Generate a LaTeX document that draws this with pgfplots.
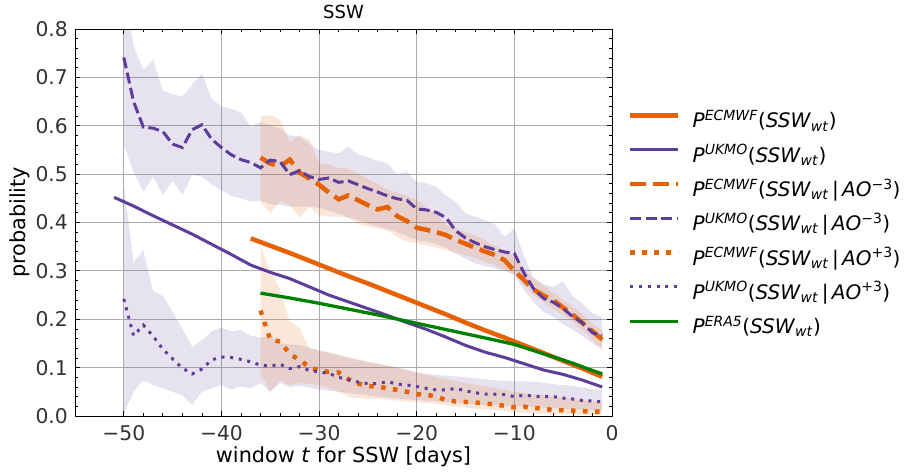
\documentclass[border=0pt]{standalone}
\usepackage{fontspec}
\setmainfont{DejaVu Sans}[ItalicFont={DejaVu Sans Oblique}]
\usepackage{pgfplots}
\pgfplotsset{compat=1.18}
\usepackage{pgfplotstable}
\usepgfplotslibrary{fillbetween}
\definecolor{ecm}{HTML}{E66101}
\definecolor{ukm}{HTML}{5E3C99}
\definecolor{era}{HTML}{008000}
\newcommand{\Pm}[1]{\textit{P}\textsuperscript{\textit{#1}}}
\newcommand{\SSW}{\textit{SSW}\textsubscript{\textit{wt}}}

\pgfplotstableread{
x y
-51 0.452
-49 0.434
-47 0.414
-45 0.395
-43 0.376
-41 0.355
-39 0.334
-37 0.312
-35 0.297
-33 0.284
-31 0.267
-29 0.250
-27 0.236
-25 0.222
-23 0.208
-21 0.193
-19 0.179
-17 0.163
-15 0.146
-13 0.132
-11 0.121
-9 0.108
-7 0.095
-5 0.086
-3 0.074
-1 0.060
}\ukmo

\pgfplotstableread{
x y
-37 0.367
-35 0.352
-33 0.337
-31 0.321
-29 0.305
-27 0.289
-25 0.274
-23 0.258
-21 0.242
-19 0.226
-17 0.210
-15 0.193
-13 0.177
-11 0.162
-9 0.146
-7 0.130
-5 0.114
-3 0.098
-1 0.081
}\ecmwf

\pgfplotstableread{
x y
-36 0.254
-33 0.244
-30 0.233
-27 0.221
-24 0.209
-21 0.196
-18 0.183
-15 0.170
-12 0.157
-10 0.148
-8 0.135
-6 0.122
-4 0.109
-2 0.094
-1 0.087
}\era

\pgfplotstableread{
x y
-50 0.741
-49 0.650
-48 0.597
-47 0.595
-46 0.588
-45 0.562
-44 0.555
-43 0.592
-42 0.602
-41 0.572
-40 0.555
-39 0.540
-38 0.530
-37 0.524
-36 0.513
-35 0.529
-34 0.526
-33 0.499
-32 0.507
-31 0.495
-30 0.489
-29 0.492
-28 0.483
-27 0.486
-26 0.478
-25 0.470
-24 0.463
-23 0.455
-22 0.449
-21 0.446
-20 0.428
-19 0.426
-18 0.421
-17 0.410
-16 0.383
-15 0.368
-14 0.358
-13 0.350
-12 0.344
-11 0.339
-10 0.336
-9 0.295
-8 0.262
-7 0.243
-6 0.235
-5 0.222
-4 0.205
-3 0.192
-2 0.172
-1 0.167
}\ukmoneg

\pgfplotstableread{
x y
-36 0.534
-35 0.522
-34 0.516
-33 0.530
-32 0.503
-31 0.491
-30 0.478
-29 0.462
-28 0.448
-27 0.456
-26 0.446
-25 0.436
-24 0.427
-23 0.432
-22 0.413
-21 0.403
-20 0.389
-19 0.385
-18 0.380
-17 0.374
-16 0.364
-15 0.356
-14 0.348
-13 0.340
-12 0.333
-11 0.322
-10 0.300
-9 0.281
-8 0.261
-7 0.249
-6 0.239
-5 0.224
-4 0.209
-3 0.192
-2 0.175
-1 0.158
}\ecmwfneg

\pgfplotstableread{
x y
-50 0.242
-49 0.166
-48 0.188
-47 0.165
-46 0.138
-45 0.118
-44 0.099
-43 0.087
-42 0.097
-41 0.116
-40 0.122
-39 0.121
-38 0.117
-37 0.112
-36 0.105
-35 0.103
-34 0.107
-33 0.098
-32 0.102
-31 0.094
-30 0.091
-29 0.088
-28 0.080
-27 0.075
-26 0.070
-25 0.067
-24 0.067
-23 0.071
-22 0.066
-21 0.064
-20 0.061
-19 0.057
-18 0.054
-17 0.054
-16 0.057
-15 0.052
-14 0.048
-13 0.045
-12 0.045
-11 0.044
-10 0.040
-9 0.043
-8 0.041
-7 0.040
-6 0.040
-5 0.037
-4 0.035
-3 0.032
-2 0.031
-1 0.029
}\ukmopos

\pgfplotstableread{
x y
-36 0.218
-35 0.158
-34 0.154
-33 0.128
-32 0.116
-31 0.101
-30 0.094
-29 0.091
-28 0.090
-27 0.076
-26 0.067
-25 0.062
-24 0.061
-23 0.057
-22 0.054
-21 0.050
-20 0.045
-19 0.044
-18 0.040
-17 0.033
-16 0.030
-15 0.029
-14 0.028
-13 0.026
-12 0.024
-11 0.021
-10 0.018
-9 0.019
-8 0.017
-7 0.015
-6 0.012
-5 0.012
-4 0.011
-3 0.010
-2 0.009
-1 0.009
}\ecmwfpos

\pgfplotstableread{
x up lo
-50 0.900 0.560
-49 0.765 0.505
-48 0.715 0.464
-47 0.736 0.495
-46 0.672 0.457
-45 0.665 0.486
-44 0.660 0.457
-43 0.685 0.498
-42 0.708 0.495
-41 0.655 0.478
-40 0.640 0.467
-39 0.635 0.455
-38 0.628 0.450
-37 0.597 0.443
-36 0.608 0.445
-35 0.600 0.438
-34 0.595 0.436
-33 0.580 0.433
-32 0.577 0.433
-31 0.563 0.433
-30 0.550 0.430
-29 0.546 0.425
-28 0.543 0.418
-27 0.557 0.410
-26 0.540 0.405
-25 0.535 0.398
-24 0.528 0.392
-23 0.522 0.386
-22 0.500 0.380
-21 0.505 0.372
-20 0.484 0.364
-19 0.481 0.360
-18 0.474 0.355
-17 0.455 0.348
-16 0.443 0.335
-15 0.418 0.325
-14 0.412 0.315
-13 0.405 0.310
-12 0.396 0.305
-11 0.370 0.300
-10 0.388 0.292
-9 0.330 0.260
-8 0.285 0.235
-7 0.272 0.215
-6 0.267 0.205
-5 0.278 0.190
-4 0.247 0.178
-3 0.232 0.165
-2 0.212 0.150
-1 0.205 0.140
}\bandukmoneg

\pgfplotstableread{
x up lo
-36 0.619 0.443
-35 0.622 0.419
-34 0.612 0.445
-33 0.567 0.436
-32 0.581 0.410
-31 0.571 0.432
-30 0.522 0.415
-29 0.520 0.412
-28 0.512 0.412
-27 0.512 0.410
-26 0.500 0.397
-25 0.490 0.392
-24 0.480 0.388
-23 0.467 0.384
-22 0.462 0.370
-21 0.455 0.360
-20 0.447 0.357
-19 0.430 0.352
-18 0.420 0.348
-17 0.395 0.343
-16 0.388 0.338
-15 0.380 0.332
-14 0.373 0.327
-13 0.364 0.318
-12 0.352 0.312
-11 0.342 0.302
-10 0.330 0.293
-9 0.300 0.270
-8 0.285 0.250
-7 0.270 0.235
-6 0.254 0.222
-5 0.240 0.208
-4 0.226 0.195
-3 0.210 0.178
-2 0.190 0.158
-1 0.178 0.135
}\bandecmwfneg

\pgfplotstableread{
x up lo
-50 0.480 0.005
-49 0.318 0.050
-48 0.343 0.074
-47 0.258 0.064
-46 0.248 0.057
-45 0.215 0.050
-44 0.180 0.043
-43 0.143 0.023
-42 0.157 0.050
-41 0.175 0.057
-40 0.183 0.064
-39 0.175 0.054
-38 0.178 0.061
-37 0.166 0.057
-36 0.162 0.068
-35 0.165 0.050
-34 0.150 0.068
-33 0.148 0.060
-32 0.147 0.062
-30 0.135 0.055
-28 0.125 0.050
-26 0.115 0.045
-24 0.108 0.040
-22 0.100 0.036
-20 0.090 0.033
-18 0.085 0.030
-16 0.082 0.028
-14 0.078 0.024
-12 0.074 0.022
-10 0.072 0.020
-8 0.071 0.018
-6 0.066 0.016
-4 0.062 0.014
-2 0.056 0.012
-1 0.054 0.010
}\bandukmopos

\pgfplotstableread{
x up lo
-36 0.350 0.088
-35 0.300 0.050
-34 0.262 0.074
-33 0.195 0.064
-32 0.183 0.068
-31 0.140 0.066
-30 0.136 0.064
-29 0.132 0.058
-28 0.127 0.050
-27 0.122 0.040
-26 0.117 0.037
-25 0.112 0.036
-24 0.109 0.036
-23 0.104 0.034
-22 0.100 0.032
-21 0.095 0.030
-20 0.090 0.028
-18 0.080 0.025
-16 0.072 0.020
-14 0.065 0.015
-12 0.058 0.012
-10 0.050 0.008
-8 0.045 0.005
-6 0.040 0.004
-4 0.035 0.003
-2 0.030 0.002
-1 0.028 0.002
}\bandecmwfpos

\begin{document}
\begin{tikzpicture}[font=\fontsize{18bp}{21bp}\selectfont]
\begin{axis}[
  at={(0,0)}, anchor=south west,
  scale only axis, width=537bp, height=387bp,
  xmin=-55, xmax=0, ymin=0, ymax=0.8,
  xtick={-50,-40,-30,-20,-10,0},
  xticklabels={−50,−40,−30,−20,−10,0},
  ytick={0,0.1,0.2,0.3,0.4,0.5,0.6,0.7,0.8},
  yticklabels={0.0,0.1,0.2,0.3,0.4,0.5,0.6,0.7,0.8},
  minor x tick num=4, minor y tick num=4,
  tick align=inside, tick pos=both,
  major tick length=5bp, minor tick length=3bp,
  every tick/.style={black, line width=0.8bp},
  grid=major,
  major grid style={black!32, line width=0.9bp},
  axis line style={black, line width=0.9bp},
  xticklabel style={anchor=base, inner sep=0pt, yshift=-24bp, text=black!80,
    font=\fontsize{20.3bp}{24bp}\selectfont},
  yticklabel style={anchor=east, inner sep=0pt, xshift=-7bp, text=black!80,
    font=\fontsize{20.3bp}{24bp}\selectfont},
  title={SSW},
  title style={at={(axis description cs:0.5,1.012)}, anchor=base, inner sep=0pt,
    font=\fontsize{18bp}{21bp}\selectfont},
  xlabel={window \textit{t} for SSW [days]},
  xlabel style={at={(axis description cs:0.5,-0.1214)}, anchor=base, inner sep=0pt,
    font=\fontsize{20.8bp}{24bp}\selectfont},
  ylabel={probability},
  ylabel style={at={(axis description cs:-0.0931,0.5)}, anchor=base, rotate=0, inner sep=0pt,
    font=\fontsize{20.8bp}{24bp}\selectfont},
  legend style={at={(axis description cs:1.0298,0.494)}, anchor=west, draw=none, fill=none,
    inner sep=0pt, row sep=12.3bp,
    font=\fontsize{20bp}{23bp}\selectfont,
    nodes={inner sep=0pt, text height=17bp, text depth=5bp},
    /tikz/every odd column/.append style={column sep=12bp}},
  legend cell align=left,
  legend image code/.code={\draw[#1] (0bp,6.5bp) -- (48bp,6.5bp);},
]
% bands
\addplot[name path=ua, draw=none, forget plot] table[x=x,y=up]{\bandukmoneg};
\addplot[name path=ub, draw=none, forget plot] table[x=x,y=lo]{\bandukmoneg};
\addplot[fill=ukm, fill opacity=0.15, draw=none, forget plot] fill between[of=ua and ub];
\addplot[name path=ea, draw=none, forget plot] table[x=x,y=up]{\bandecmwfneg};
\addplot[name path=eb, draw=none, forget plot] table[x=x,y=lo]{\bandecmwfneg};
\addplot[fill=ecm, fill opacity=0.15, draw=none, forget plot] fill between[of=ea and eb];
\addplot[name path=uc, draw=none, forget plot] table[x=x,y=up]{\bandukmopos};
\addplot[name path=ud, draw=none, forget plot] table[x=x,y=lo]{\bandukmopos};
\addplot[fill=ukm, fill opacity=0.15, draw=none, forget plot] fill between[of=uc and ud];
\addplot[name path=ec, draw=none, forget plot] table[x=x,y=up]{\bandecmwfpos};
\addplot[name path=ed, draw=none, forget plot] table[x=x,y=lo]{\bandecmwfpos};
\addplot[fill=ecm, fill opacity=0.15, draw=none, forget plot] fill between[of=ec and ed];
% lines
\addplot[ecm, line width=4.5bp] table{\ecmwf};
\addlegendentry{\Pm{ECMWF}(\SSW)}
\addplot[ukm, line width=3bp] table{\ukmo};
\addlegendentry{\Pm{UKMO}(\SSW)}
\addplot[ecm, line width=4.5bp, dash pattern=on 16bp off 7bp] table{\ecmwfneg};
\addlegendentry{\Pm{ECMWF}(\SSW\,|\,\textit{AO}\textsuperscript{−3})}
\addplot[ukm, line width=3bp, dash pattern=on 11bp off 4.5bp] table{\ukmoneg};
\addlegendentry{\Pm{UKMO}(\SSW\,|\,\textit{AO}\textsuperscript{−3})}
\addplot[ecm, line width=4.5bp, dash pattern=on 4.5bp off 7.5bp] table{\ecmwfpos};
\addlegendentry{\Pm{ECMWF}(\SSW\,|\,\textit{AO}\textsuperscript{+3})}
\addplot[ukm, line width=3bp, dash pattern=on 3bp off 5.7bp] table{\ukmopos};
\addlegendentry{\Pm{UKMO}(\SSW\,|\,\textit{AO}\textsuperscript{+3})}
\addplot[era, line width=3.3bp] table{\era};
\addlegendentry{\Pm{ERA5}(\SSW)}
\end{axis}
\pgfresetboundingbox
\path[use as bounding box] (-75bp,-59bp) rectangle (836bp,416bp);
\end{tikzpicture}
\end{document}
